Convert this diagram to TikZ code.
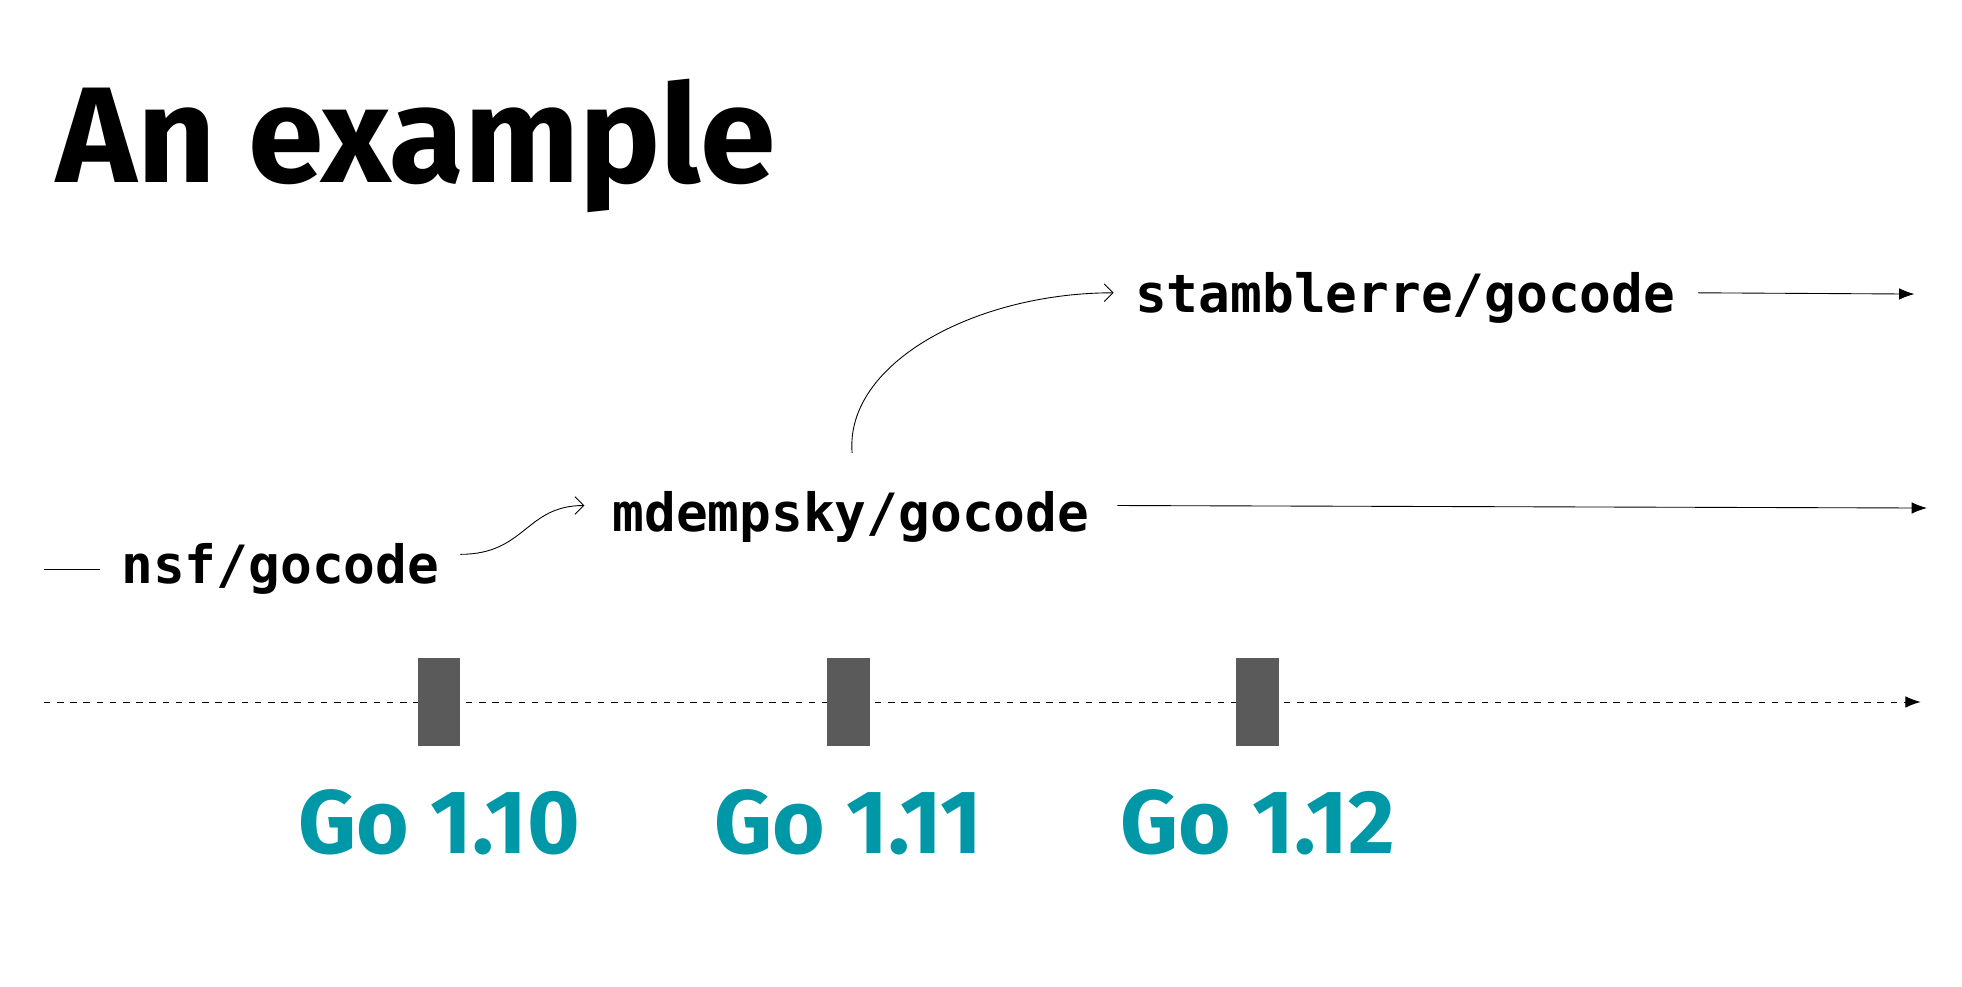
\documentclass[tikz,border=0pt]{standalone}
\usepackage{fontspec}
\setmainfont{Fira Sans}
\setmonofont{DejaVu Sans Mono}
\usetikzlibrary{arrows.meta}
\definecolor{goteal}{HTML}{0097A7}
\definecolor{relgray}{HTML}{5A5A5A}
\tikzset{
  repo/.style={font=\ttfamily\bfseries\fontsize{24}{28}\selectfont, inner sep=0pt},
  golabel/.style={font=\bfseries\fontsize{41}{46}\selectfont, text=goteal, inner sep=0pt},
  release/.style={fill=relgray, draw=none}
}

\begin{document}
\begin{tikzpicture}[x=0.02cm,y=-0.02cm]

    \useasboundingbox (0,0) rectangle (1568,788);

    % title
    \node[anchor=base west, inner sep=0pt, font=\bfseries\fontsize{62}{70}\selectfont] (title) at (45,146) {An example};

    % repositories
    \node[repo] (nsf) at (224,455) {nsf/gocode};
    \node[repo] (mdem) at (680,413) {mdempsky/gocode};
    \node[repo] (stam) at (1123,238) {stamblerre/gocode};

    \coordinate (nsfin) at (35,455);
    \coordinate (mdemout) at (1540,406);
    \coordinate (stamout) at (1530,235);

    % connectors
    \draw[thin] (nsfin) -- (80,455);
    \draw[thin,-{Straight Barb[length=4pt]}] (368,443) .. controls (420,443) and (420,404) .. (467,404);
    \draw[thin,-{Straight Barb[length=4pt]}] (681,362) .. controls (675,290) and (780,234) .. (890,234);
    \draw[thin,-{Latex[length=7pt]}] (893,404) -- (mdemout);
    \draw[thin,-{Latex[length=7pt]}] (1357,234) -- (stamout);

    % timeline
    \coordinate (tstart) at (35,561);
    \coordinate (tend) at (1535,561);
    \draw[thin,dashed,-{Latex[length=7pt]}] (tstart) -- (tend);

    % releases
    \foreach \x/\v [count=\i] in {351/1.10,678/1.11,1005/1.12} {
      \fill[release] (\x-17,526) rectangle (\x+17,596);
      \node[golabel] (go\i) at (\x,657) {Go \v};
    }

\end{tikzpicture}
\end{document}
